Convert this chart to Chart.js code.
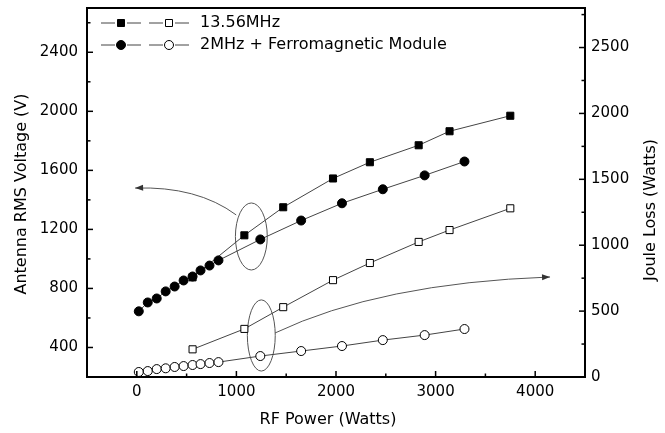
<!DOCTYPE html>
<html>
<head>
<meta charset="utf-8">
<script src="https://cdn.jsdelivr.net/npm/chart.js@4.4.1/dist/chart.umd.min.js"></script>
<style>
  html, body { margin: 0; padding: 0; background: #fff; }
  canvas { display: block; }
</style>
</head>
<body>
<canvas id="chartCanvas" width="665" height="433"></canvas>
<script>
// 13.56 MHz source
const power13 = [560, 1080, 1470, 1970, 2340, 2830, 3140, 3750];
const volt13 = [875, 1160, 1350, 1545, 1655, 1770, 1865, 1970];
const loss13 = [210, 365, 530, 735, 865, 1025, 1115, 1280];

// 2 MHz + ferromagnetic module
const power2 = [20, 110, 200, 290, 380, 470, 560, 640, 730, 820, 1240, 1650, 2060, 2470, 2890, 3290];
const volt2 = [645, 705, 732, 780, 813, 854, 881, 922, 955, 990, 1132, 1260, 1377, 1472, 1566, 1660];
const loss2 = [38, 45, 60, 66, 76, 83, 91, 98, 106, 113, 159, 197, 235, 280, 318, 364];

// axis ticks
const xTicks = [0, 1000, 2000, 3000, 4000];
const xMinor = [500, 1500, 2500, 3500];
const voltTicks = [400, 800, 1200, 1600, 2000, 2400];
const voltMinor = [600, 1000, 1400, 1800, 2200, 2600];
const lossTicks = [0, 500, 1000, 1500, 2000, 2500];
const lossMinor = [250, 750, 1250, 1750, 2250, 2750];

const legendLabels = ["13.56MHz", "2MHz + Ferromagnetic Module"];

const FONT = "'DejaVu Sans', sans-serif";
const LINE = "#444";

// annotation rings + arrows, in data units (W, V / W loss)
const ringVolt = { x: 1150, y: 1152, rx: 160, ry: 227 };
const ringLoss = { x: 1250, y: 315, rx: 140, ry: 270 };
const arrowVolt = { from: [998, 1298], ctrl: [606, 1494], to: [-17, 1480] };
const arrowLoss = { from: [1388, 334], ctrl: [2442, 713], to: [4149, 759] };

const pts = (xs, ys) => xs.map((x, i) => ({ x: x, y: ys[i] }));

const series = (data, axis, style, radius, fill) => ({
  data: data,
  yAxisID: axis,
  showLine: true,
  borderColor: LINE,
  borderWidth: 1,
  pointStyle: style,
  pointRadius: radius,
  pointBackgroundColor: fill,
  pointBorderColor: "#000",
  pointBorderWidth: 1,
  tension: 0,
});

const fixedTicks = (list) => (scale) => {
  scale.ticks = list.map((v) => ({ value: v }));
};

// force the box size and drop the label overhang padding
const fixSize = (w, h) => (s) => {
  if (w) s.width = w;
  if (h) s.height = h;
  s.paddingTop = 0;
  s.paddingBottom = 0;
  s.paddingLeft = 0;
  s.paddingRight = 0;
};

const tickFont = { family: FONT, size: 15 };
const plain = (v) => String(v);

const decor = {
  id: "decor",
  beforeDatasetsDraw(chart) {
    const { ctx, scales } = chart;
    const x = scales.x;
    ctx.save();
    ctx.strokeStyle = "#555";
    ctx.fillStyle = "#333";
    ctx.lineWidth = 1;

    const ring = (r, ys) => {
      const cx = x.getPixelForValue(r.x);
      const cy = ys.getPixelForValue(r.y);
      const rx = Math.abs(x.getPixelForValue(r.x + r.rx) - cx);
      const ry = Math.abs(ys.getPixelForValue(r.y + r.ry) - cy);
      ctx.beginPath();
      ctx.ellipse(cx, cy, rx, ry, 0, 0, Math.PI * 2);
      ctx.stroke();
    };

    const arrow = (a, ys) => {
      const p = (v) => [x.getPixelForValue(v[0]), ys.getPixelForValue(v[1])];
      const f = p(a.from), c = p(a.ctrl), t = p(a.to);
      ctx.beginPath();
      ctx.moveTo(f[0], f[1]);
      ctx.quadraticCurveTo(c[0], c[1], t[0], t[1]);
      ctx.stroke();
      const ang = Math.atan2(t[1] - c[1], t[0] - c[0]);
      ctx.beginPath();
      ctx.moveTo(t[0], t[1]);
      ctx.lineTo(t[0] - 8 * Math.cos(ang) + 3 * Math.sin(ang), t[1] - 8 * Math.sin(ang) - 3 * Math.cos(ang));
      ctx.lineTo(t[0] - 8 * Math.cos(ang) - 3 * Math.sin(ang), t[1] - 8 * Math.sin(ang) + 3 * Math.cos(ang));
      ctx.closePath();
      ctx.fill();
    };

    ring(ringVolt, scales.yV);
    ring(ringLoss, scales.yL);
    arrow(arrowVolt, scales.yV);
    arrow(arrowLoss, scales.yL);
    ctx.restore();
  },
  afterDraw(chart) {
    const { ctx, chartArea: a, scales } = chart;
    ctx.save();

    // frame
    ctx.strokeStyle = "#000";
    ctx.lineWidth = 2;
    ctx.strokeRect(a.left, a.top, a.right - a.left, a.bottom - a.top);

    // inward tick marks
    ctx.lineWidth = 1.5;
    const vTicks = (scale, list, len, side) => {
      list.forEach((v) => {
        const y = scale.getPixelForValue(v);
        const x0 = side === "left" ? a.left : a.right;
        const dir = side === "left" ? 1 : -1;
        ctx.beginPath();
        ctx.moveTo(x0, y);
        ctx.lineTo(x0 + dir * len, y);
        ctx.stroke();
      });
    };
    xTicks.concat(xMinor).forEach((v) => {
      const px = scales.x.getPixelForValue(v);
      const len = xTicks.includes(v) ? 6 : 3.5;
      ctx.beginPath();
      ctx.moveTo(px, a.bottom);
      ctx.lineTo(px, a.bottom - len);
      ctx.stroke();
    });
    vTicks(scales.yV, voltTicks, 6, "left");
    vTicks(scales.yV, voltMinor, 3.5, "left");
    vTicks(scales.yL, lossTicks, 6, "right");
    vTicks(scales.yL, lossMinor, 3.5, "right");

    // legend
    const rows = [
      { y: 23, shape: "rect" },
      { y: 45, shape: "circle" },
    ];
    rows.forEach((row, i) => {
      [[121, "#000"], [169, "#fff"]].forEach(([mx, fill]) => {
        ctx.strokeStyle = LINE;
        ctx.lineWidth = 1;
        ctx.beginPath();
        ctx.moveTo(mx - 20, row.y);
        ctx.lineTo(mx - 6, row.y);
        ctx.moveTo(mx + 6, row.y);
        ctx.lineTo(mx + 20, row.y);
        ctx.stroke();
        ctx.fillStyle = fill;
        ctx.strokeStyle = "#000";
        ctx.beginPath();
        if (row.shape === "rect") ctx.rect(mx - 3.5, row.y - 3.5, 7, 7);
        else ctx.arc(mx, row.y, 4.5, 0, Math.PI * 2);
        ctx.fill();
        ctx.stroke();
      });
      ctx.fillStyle = "#000";
      ctx.font = "16px " + FONT;
      ctx.textAlign = "left";
      ctx.textBaseline = "middle";
      ctx.fillText(legendLabels[i], 200, row.y);
    });

    // axis titles
    ctx.fillStyle = "#000";
    ctx.font = "16px " + FONT;
    ctx.textAlign = "center";
    ctx.textBaseline = "middle";
    ctx.fillText("RF Power (Watts)", 328, 420);
    ctx.translate(22, 194);
    ctx.rotate(-Math.PI / 2);
    ctx.fillText("Antenna RMS Voltage (V)", 0, 0);
    ctx.setTransform(1, 0, 0, 1, 0, 0);
    ctx.translate(651, 210);
    ctx.rotate(-Math.PI / 2);
    ctx.fillText("Joule Loss (Watts)", 0, 0);
    ctx.restore();
  },
};

new Chart(document.getElementById("chartCanvas"), {
  type: "line",
  data: {
    datasets: [
      series(pts(power2, volt2), "yV", "circle", 4.5, "#000"),
      series(pts(power2, loss2), "yL", "circle", 4.5, "#fff"),
      series(pts(power13, volt13), "yV", "rect", 5, "#000"),
      series(pts(power13, loss13), "yL", "rect", 5, "#fff"),
    ],
  },
  options: {
    responsive: false,
    animation: false,
    layout: { padding: { top: 8, left: 0, right: 0, bottom: 0 } },
    plugins: { legend: { display: false }, tooltip: { enabled: false } },
    scales: {
      x: {
        type: "linear",
        min: -500,
        max: 4500,
        afterBuildTicks: fixedTicks(xTicks),
        afterFit: fixSize(0, 56),
        grid: { display: false, drawTicks: false },
        border: { display: false },
        ticks: { font: tickFont, color: "#000", padding: 6, maxRotation: 0, callback: plain },
      },
      yV: {
        type: "linear",
        position: "left",
        min: 200,
        max: 2700,
        afterBuildTicks: fixedTicks(voltTicks),
        afterFit: fixSize(87, 0),
        grid: { display: false, drawTicks: false },
        border: { display: false },
        ticks: { font: tickFont, color: "#000", padding: 9, callback: plain },
      },
      yL: {
        type: "linear",
        position: "right",
        min: 0,
        max: 2800,
        afterBuildTicks: fixedTicks(lossTicks),
        afterFit: fixSize(80, 0),
        grid: { display: false, drawTicks: false },
        border: { display: false },
        ticks: { font: tickFont, color: "#000", padding: 6, callback: plain },
      },
    },
  },
  plugins: [decor],
});
</script>
</body>
</html>
